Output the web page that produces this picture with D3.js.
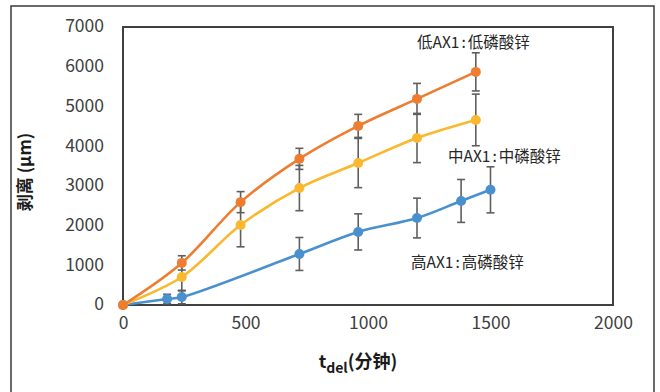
<!DOCTYPE html>
<html>
<head>
<meta charset="utf-8">
<script src="https://cdn.jsdelivr.net/npm/d3@7"></script>
<style>
  body { margin: 0; background: #fff; }
  text { font-family: "Noto Sans CJK SC", "Noto Sans", sans-serif; }
</style>
</head>
<body>
<div id="chart"></div>
<script>
// time (minutes) and peel distance (µm), error = ± value
const lowX = [0, 240, 480, 720, 960, 1200, 1440];
const lowY = [0, 1060, 2590, 3680, 4510, 5190, 5870];
const lowErr = [0, 180, 265, 265, 290, 390, 480];

const midX = [0, 240, 480, 720, 960, 1200, 1440];
const midY = [0, 705, 2015, 2945, 3575, 4205, 4660];
const midErr = [0, 350, 550, 570, 620, 620, 650];

const highX = [0, 180, 240, 720, 960, 1200, 1380, 1500];
const highY = [0, 150, 200, 1285, 1840, 2190, 2620, 2900];
const highErr = [0, 120, 170, 415, 455, 500, 540, 580];

const xTicks = [0, 500, 1000, 1500, 2000];
const yTicks = [0, 1000, 2000, 3000, 4000, 5000, 6000, 7000];

const seriesNames = ["低AX1:低磷酸锌", "中AX1:中磷酸锌", "高AX1:高磷酸锌"];
const seriesColors = ["#ED7D31", "#F9B82E", "#4A90CF"];

const series = [
  { name: seriesNames[0], color: seriesColors[0], x: lowX, y: lowY, e: lowErr },
  { name: seriesNames[1], color: seriesColors[1], x: midX, y: midY, e: midErr },
  { name: seriesNames[2], color: seriesColors[2], x: highX, y: highY, e: highErr }
].map(s => ({ ...s, pts: s.x.map((t, i) => ({ t: t, v: s.y[i], e: s.e[i] })) }));

const svg = d3.select("#chart").append("svg").attr("width", 660).attr("height", 392);

// outer frame
svg.append("rect")
  .attr("x", 11).attr("y", 6).attr("width", 643).attr("height", 400)
  .attr("fill", "#fff").attr("stroke", "#3a3a3a").attr("stroke-width", 1.5);

const x = d3.scaleLinear().domain([0, 2000]).range([123, 613]);
const y = d3.scaleLinear().domain([0, 7000]).range([305, 27]);

// plot frame
svg.append("rect")
  .attr("x", x(0)).attr("y", y(7000))
  .attr("width", x(2000) - x(0)).attr("height", y(0) - y(7000))
  .attr("fill", "none").attr("stroke", "#404040").attr("stroke-width", 2);

// y axis labels
const yAxis = svg.append("g").attr("transform", `translate(${x(0)},0)`)
  .call(d3.axisLeft(y).tickValues(yTicks).tickFormat(d3.format("d")).tickSize(0).tickPadding(19));
yAxis.select(".domain").remove();
yAxis.selectAll("text")
  .attr("dy", "0.28em")
  .style("font-size", "17.5px").style("fill", "#404040")
  .style("font-family", "'Noto Sans CJK SC', 'Noto Sans', sans-serif");

// x axis labels
const xAxis = svg.append("g").attr("transform", `translate(0,${y(0)})`)
  .call(d3.axisBottom(x).tickValues(xTicks).tickFormat(d3.format("d")).tickSize(0).tickPadding(12));
xAxis.select(".domain").remove();
xAxis.selectAll("text")
  .style("font-size", "17.5px").style("fill", "#404040")
  .style("font-family", "'Noto Sans CJK SC', 'Noto Sans', sans-serif");

// error bars
series.forEach(s => {
  const g = svg.append("g");
  s.pts.filter(d => d.e > 0).forEach(d => {
    const cx = x(d.t), y1 = y(d.v + d.e), y2 = y(d.v - d.e);
    g.append("line").attr("x1", cx).attr("x2", cx).attr("y1", y1).attr("y2", y2)
      .attr("stroke", "#5f5f5f").attr("stroke-width", 1.6);
    [y1, y2].forEach(yy => g.append("line")
      .attr("x1", cx - 4).attr("x2", cx + 4).attr("y1", yy).attr("y2", yy)
      .attr("stroke", "#5f5f5f").attr("stroke-width", 1.6));
  });
});

// lines
const line = d3.line().x(d => x(d.t)).y(d => y(d.v)).curve(d3.curveCatmullRom.alpha(0.5));
series.slice().reverse().forEach(s => {
  svg.append("path").datum(s.pts)
    .attr("d", line).attr("fill", "none")
    .attr("stroke", s.color).attr("stroke-width", 2.6);
});

// markers
series.slice().reverse().forEach(s => {
  svg.selectAll(null).data(s.pts).enter().append("circle")
    .attr("cx", d => x(d.t)).attr("cy", d => y(d.v)).attr("r", 5)
    .attr("fill", s.color);
});

// series labels (split at the colon so it can be spaced like the original)
const labelPos = [[417, 48], [448, 162], [411, 268]];
series.forEach((s, i) => {
  const parts = s.name.split(":");
  const t = svg.append("text")
    .attr("x", labelPos[i][0]).attr("y", labelPos[i][1])
    .style("font-size", "15.5px").style("fill", "#262626");
  t.append("tspan").text(parts[0]);
  t.append("tspan").attr("dx", 2).text(":");
  t.append("tspan").attr("dx", 2).text(parts[1]);
});

// axis titles
svg.append("text")
  .attr("transform", "translate(31,172) rotate(-90)")
  .attr("text-anchor", "middle")
  .style("font-size", "17px").style("font-weight", "bold").style("fill", "#1a1a1a")
  .text("剥离 (μm)");

const xt = svg.append("text")
  .attr("x", 358).attr("y", 368)
  .attr("text-anchor", "middle")
  .style("font-size", "18px").style("font-weight", "bold").style("fill", "#1a1a1a");
xt.append("tspan").text("t");
xt.append("tspan").attr("dy", 5).style("font-size", "14px").text("del");
xt.append("tspan").attr("dy", -5).text("(分钟)");
</script>
</body>
</html>
